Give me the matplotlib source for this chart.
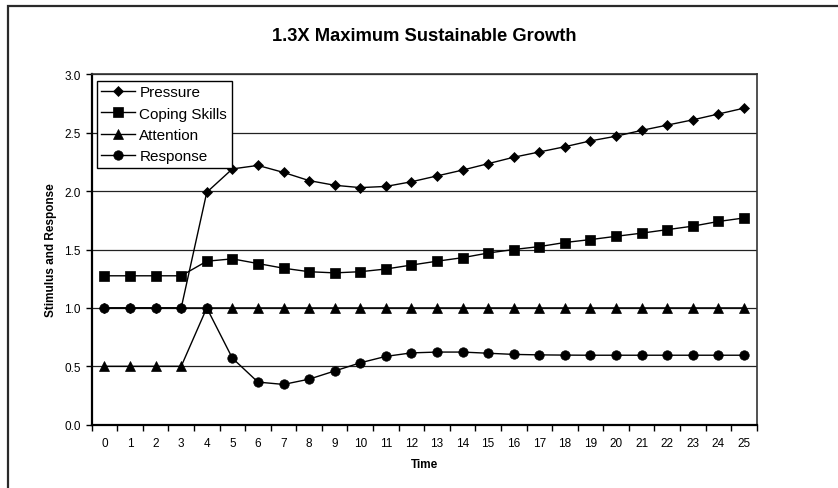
import matplotlib
matplotlib.use("Agg")
import matplotlib.pyplot as plt
from matplotlib.patches import Rectangle
from matplotlib.ticker import FixedLocator, MultipleLocator, FormatStrFormatter

plt.rcParams['font.family'] = ['Liberation Sans', 'DejaVu Sans']

# ── Data ─────────────────────────────────────────────────────────────────────
TIME = list(range(26))

PRESSURE = [1.00, 1.00, 1.00, 1.00, 1.99, 2.19, 2.22, 2.16, 2.09, 2.05,
            2.03, 2.04, 2.08, 2.13, 2.18, 2.235, 2.29, 2.335, 2.38, 2.43,
            2.47, 2.52, 2.565, 2.61, 2.66, 2.71]
COPING = [1.275, 1.275, 1.275, 1.275, 1.40, 1.42, 1.38, 1.34, 1.31, 1.30,
          1.31, 1.333, 1.367, 1.40, 1.43, 1.47, 1.50, 1.525, 1.56, 1.585,
          1.613, 1.64, 1.67, 1.70, 1.74, 1.77]
ATTENTION = [0.5, 0.5, 0.5, 0.5] + [1.0] * 22
RESPONSE = [1.00, 1.00, 1.00, 1.00, 1.00, 0.57, 0.365, 0.345, 0.39, 0.46,
            0.53, 0.585, 0.615, 0.622, 0.622, 0.612, 0.602, 0.598, 0.596, 0.595,
            0.595, 0.595, 0.595, 0.595, 0.595, 0.595]

SERIES = [
    ("Pressure", PRESSURE, "D", 5.5),
    ("Coping Skills", COPING, "s", 6.5),
    ("Attention", ATTENTION, "^", 6.8),
    ("Response", RESPONSE, "o", 6.8),
]

# ── Figure ───────────────────────────────────────────────────────────────────
fig = plt.figure(figsize=(8.38, 4.89), dpi=100, facecolor="white")

# chart-area border (runs off the right and bottom edges)
fig.patches.append(Rectangle((7.5 / 838, -0.5), 2.0, 1.5 - 6.5 / 489,
                             transform=fig.transFigure, fill=False,
                             edgecolor="#2a2a2a", linewidth=1.6))

ax = fig.add_axes([0.1094, 0.1294, 0.7936, 0.7166])

for name, vals, mk, ms in SERIES:
    ax.plot(TIME, vals, color="black", linewidth=1.0, marker=mk,
            markersize=ms, markerfacecolor="black", markeredgecolor="black",
            markeredgewidth=0.5, label=name, zorder=3)

ax.set_xlim(-0.5, 25.5)
ax.set_ylim(0, 3.0)

ax.yaxis.set_major_locator(MultipleLocator(0.5))
ax.yaxis.set_major_formatter(FormatStrFormatter("%.1f"))
ax.set_xticks(TIME)
ax.set_xticklabels([str(t) for t in TIME])
ax.xaxis.set_minor_locator(FixedLocator([t - 0.5 for t in range(27)]))

ax.tick_params(axis="x", which="major", length=0, pad=8.5, labelsize=8.5)
ax.tick_params(axis="x", which="minor", length=4, width=1.0, direction="out")
ax.tick_params(axis="y", length=4, width=1.0, direction="out", pad=4,
               labelsize=8.5)

ax.grid(True, axis="y", color="#222222", linewidth=0.9)
ax.set_axisbelow(True)

for side in ("left", "bottom"):
    ax.spines[side].set_linewidth(1.6)
    ax.spines[side].set_color("black")
for side in ("top", "right"):
    ax.spines[side].set_linewidth(1.2)
    ax.spines[side].set_color("#333333")

ax.set_ylabel("Stimulus and Response", fontsize=8.5, fontweight="bold",
              labelpad=5)
ax.set_xlabel("Time", fontsize=8.5, fontweight="bold", labelpad=7)

fig.text(0.5057, 1 - 36.7 / 489, "1.3X Maximum Sustainable Growth",
         ha="center", va="center", fontsize=13.2, fontweight="bold")

leg = ax.legend(loc="upper left", bbox_to_anchor=(0.0075, 0.982),
                borderaxespad=0, fontsize=11, frameon=True, fancybox=False,
                framealpha=1, edgecolor="black", handlelength=2.2,
                handletextpad=0.3, labelspacing=0.48, borderpad=0.3)
leg.get_frame().set_linewidth(1.0)

fig.savefig("out.png", dpi=100, facecolor="white")
